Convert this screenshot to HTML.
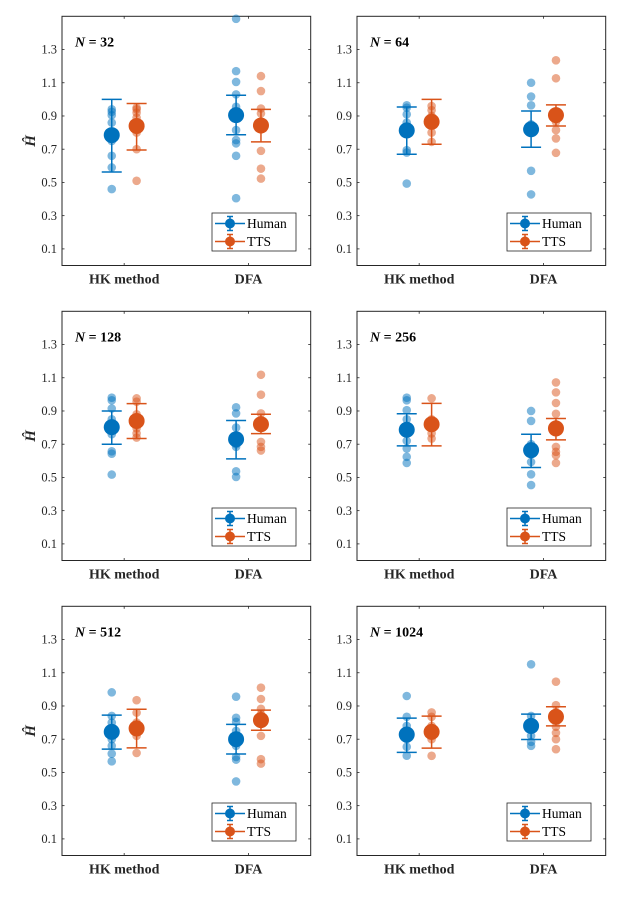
<!DOCTYPE html>
<html><head><meta charset="utf-8"><style>
html,body{margin:0;padding:0;background:#fff}
svg{display:block;font-family:"Liberation Serif",serif}
</style></head><body>
<svg id="fig" width="623" height="902" viewBox="0 0 623 902" xmlns="http://www.w3.org/2000/svg"></svg>
<script>
const panelTitles=["N = 32","N = 64","N = 128","N = 256","N = 512","N = 1024"];
const panelNs=["32","64","128","256","512","1024"];
const categories=["HK method","DFA"];
const seriesNames=["Human","TTS"];
const yTicks=[0.1,0.3,0.5,0.7,0.9,1.1,1.3];
const yTickLabels=["0.1","0.3","0.5","0.7","0.9","1.1","1.3"];
// means [panel][category][series]
const means=[
 [[0.785,0.84],[0.905,0.843]],
 [[0.813,0.865],[0.82,0.905]],
 [[0.803,0.84],[0.73,0.82]],
 [[0.787,0.82],[0.664,0.795]],
 [[0.744,0.765],[0.70,0.815]],
 [[0.728,0.744],[0.78,0.835]]
];
const errLow=[
 [[0.563,0.695],[0.787,0.744]],
 [[0.67,0.73],[0.712,0.84]],
 [[0.70,0.734],[0.612,0.764]],
 [[0.69,0.69],[0.56,0.726]],
 [[0.64,0.648],[0.611,0.754]],
 [[0.621,0.646],[0.698,0.78]]
];
const errHigh=[
 [[1.0,0.975],[1.025,0.94]],
 [[0.954,1.0],[0.93,0.967]],
 [[0.90,0.944],[0.843,0.88]],
 [[0.883,0.946],[0.76,0.855]],
 [[0.845,0.88],[0.789,0.875]],
 [[0.827,0.839],[0.851,0.895]]
];
const points=[
 [[[0.94,0.925,0.905,0.86,0.80,0.75,0.66,0.59,0.46],[0.95,0.94,0.92,0.89,0.84,0.80,0.70,0.51]],
  [[1.485,1.17,1.105,1.03,0.955,0.90,0.815,0.755,0.735,0.66,0.405],[1.14,1.05,0.945,0.915,0.86,0.82,0.69,0.583,0.523]]],
 [[[0.964,0.95,0.91,0.86,0.80,0.694,0.68,0.493],[0.96,0.935,0.90,0.865,0.80,0.744]],
  [[1.1,1.017,0.964,0.85,0.80,0.57,0.428],[1.235,1.127,0.865,0.815,0.765,0.678]]],
 [[[0.98,0.964,0.915,0.85,0.80,0.76,0.657,0.643,0.517],[0.976,0.956,0.88,0.84,0.795,0.765,0.74]],
  [[0.922,0.885,0.80,0.75,0.70,0.684,0.537,0.503],[1.118,0.998,0.885,0.84,0.80,0.714,0.684,0.662]]],
 [[[0.98,0.964,0.905,0.85,0.78,0.72,0.674,0.624,0.587],[0.976,0.85,0.80,0.765,0.734]],
  [[0.90,0.84,0.70,0.64,0.593,0.519,0.454],[1.072,1.012,0.948,0.883,0.82,0.684,0.654,0.634,0.587]]],
 [[[0.982,0.84,0.80,0.70,0.66,0.613,0.567],[0.935,0.86,0.80,0.72,0.617]],
  [[0.956,0.829,0.805,0.75,0.66,0.593,0.577,0.446],[1.01,0.942,0.883,0.85,0.72,0.58,0.553]]],
 [[[0.96,0.835,0.78,0.70,0.654,0.601],[0.861,0.835,0.78,0.70,0.6]],
  [[1.151,0.84,0.80,0.72,0.684,0.66],[1.046,0.905,0.86,0.775,0.738,0.70,0.64]]]
];
const colors=["#0072BD","#D95319"];
const NS="http://www.w3.org/2000/svg";
const svg=document.getElementById('fig');
function mk(tag,attrs,parent){const e=document.createElementNS(NS,tag);for(const k in attrs)e.setAttribute(k,attrs[k]);(parent||svg).appendChild(e);return e;}
const PW=248.7,PH=249.2;
const lefts=[62,357],tops=[16.3,311.3,606.3];
for(let p=0;p<6;p++){
  const L=lefts[p%2],T=tops[Math.floor(p/2)];
  const g=mk('g',{});
  
  
  const xS=v=>L+(v-0.5)/2*PW;
  const yS=v=>T+PH*(1-v/1.5);
  const frame=mk('rect',{x:L,y:T,width:PW,height:PH,fill:'#fff',stroke:'#262626','stroke-width':1},g);
  
  
  // y ticks
  yTicks.forEach((v,i)=>{
    const y=yS(v);
    mk('line',{x1:L,x2:L+2.5,y1:y,y2:y,stroke:'#262626','stroke-width':0.8},g);
    mk('line',{x1:L+PW,x2:L+PW-2.5,y1:y,y2:y,stroke:'#262626','stroke-width':0.8},g);
    const t=mk('text',{x:L-5,y:y+4.2,'text-anchor':'end','font-size':12.5,fill:'#262626'},g);
    t.textContent=yTickLabels[i];
    
    
  });
  categories.forEach((c,ci)=>{
    const x=xS(ci+1);
    mk('line',{x1:x,x2:x,y1:T+PH,y2:T+PH-2.5,stroke:'#262626','stroke-width':0.8},g);
    mk('line',{x1:x,x2:x,y1:T,y2:T+2.5,stroke:'#262626','stroke-width':0.8},g);
    const t=mk('text',{x:x,y:T+PH+18,'text-anchor':'middle','font-size':14,'font-weight':'bold',fill:'#262626'},g);
    t.textContent=c;
    
    
  });
  if(p%2===0){
    const yl=mk('text',{x:0,y:0,'font-size':15,'font-weight':'bold','font-style':'italic',fill:'#262626','text-anchor':'middle',transform:`translate(35,${T+PH/2}) rotate(-90)`},g);
    yl.textContent='Ĥ';
    
    
  }
  const tt=mk('text',{x:L+13,y:T+30,'font-size':14,'font-weight':'bold',fill:'#000'},g);
  
  
  const ti=mk('tspan',{'font-style':'italic'},tt);ti.textContent='N';
  const tr=mk('tspan',{},tt);tr.textContent=' = '+panelNs[p];
  // data
  for(let ci=0;ci<2;ci++){
    for(let s=0;s<2;s++){
      const x=xS(ci+1+(s===0?-0.1:0.1));
      points[p][ci][s].forEach(v=>{
        const c=mk('circle',{cx:x,cy:yS(v),r:4.3,fill:colors[s],'fill-opacity':0.5},g);
        
        
      });
      const eg=mk('g',{stroke:colors[s],'stroke-width':1.5,fill:colors[s]},g);
      
      
      const y1=yS(errLow[p][ci][s]),y2=yS(errHigh[p][ci][s]);
      mk('line',{x1:x,x2:x,y1:y1,y2:y2},eg);
      mk('line',{x1:x-10,x2:x+10,y1:y1,y2:y1},eg);
      mk('line',{x1:x-10,x2:x+10,y1:y2,y2:y2},eg);
      mk('circle',{cx:x,cy:yS(means[p][ci][s]),r:8,stroke:'none'},eg);
    }
  }
  // legend
  const lg=mk('g',{},g);
  
  
  const lx=L+PW-98.7,ly=T+PH-52.5;
  mk('rect',{x:lx,y:ly,width:84,height:38,fill:'#fff',stroke:'#262626','stroke-width':0.8},lg);
  seriesNames.forEach((n,s)=>{
    const yy=ly+10.5+s*18;
    const eg=mk('g',{stroke:colors[s],'stroke-width':1.5,fill:colors[s]},lg);
    
    
    mk('line',{x1:lx+3,x2:lx+33,y1:yy,y2:yy},eg);
    mk('line',{x1:lx+18,x2:lx+18,y1:yy-7,y2:yy+7},eg);
    mk('line',{x1:lx+15,x2:lx+21,y1:yy-7,y2:yy-7},eg);
    mk('line',{x1:lx+15,x2:lx+21,y1:yy+7,y2:yy+7},eg);
    mk('circle',{cx:lx+18,cy:yy,r:5,stroke:'none'},eg);
    const t=mk('text',{x:lx+35,y:yy+4.5,'font-size':13.5,fill:'#000',stroke:'none'},lg);
    t.textContent=n;
  });
}
</script>
</body></html>
